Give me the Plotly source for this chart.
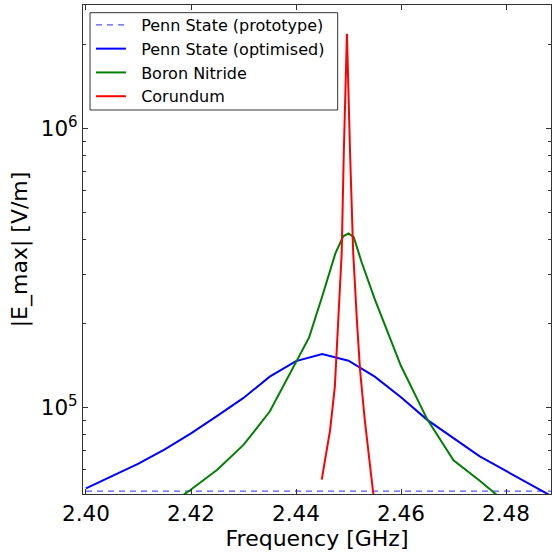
import plotly.graph_objects as go

# Penn State (prototype)
freq_proto = [2.400, 2.490]
e_proto = [50000, 50000]

# Penn State (optimised)
freq_opt = [2.400, 2.405, 2.410, 2.415, 2.420, 2.425, 2.430, 2.435, 2.440, 2.445,
            2.450, 2.455, 2.460, 2.465, 2.470, 2.475, 2.480, 2.485, 2.490]
e_opt = [51150, 56500, 62800, 70600, 80600, 93100, 108000, 128700, 146400, 155100,
         146800, 128700, 108600, 90100, 77500, 66700, 59100, 52300, 46500]

# Boron Nitride
freq_bn = [2.415, 2.420, 2.425, 2.430, 2.435, 2.440, 2.4425, 2.445, 2.4475, 2.449,
           2.450, 2.451, 2.4525, 2.455, 2.4575, 2.460, 2.465, 2.470, 2.475, 2.480]
e_bn = [43500, 50700, 59700, 73300, 96500, 145000, 178000, 250000, 356000, 410000,
        420000, 407000, 331000, 244000, 186000, 140500, 90500, 64500, 54500, 45500]

# Corundum
freq_cor = [2.4449, 2.4465, 2.4474, 2.4481, 2.4487, 2.4491, 2.4497, 2.4503, 2.4509,
            2.4516, 2.4522, 2.4531, 2.4547, 2.4550]
e_cor = [55000, 83000, 118500, 205000, 356000, 812000, 2180000, 812000, 356000,
         205000, 136000, 90000, 49300, 47000]

# axis ticks
x_ticks = [2.40, 2.42, 2.44, 2.46, 2.48]
x_ticklabels = ["2.40", "2.42", "2.44", "2.46", "2.48"]
y_ticks = [1e5, 1e6]
y_ticklabels = ["10<sup>5</sup>", "10<sup>6</sup>"]
y_minor = [6e4, 7e4, 8e4, 9e4, 2e5, 3e5, 4e5, 5e5, 6e5, 7e5, 8e5, 9e5, 2e6]

FONT = "DejaVu Sans"
PAD = "\u00a0\u00a0"

fig = go.Figure()
fig.add_trace(go.Scatter(x=freq_proto, y=e_proto, mode="lines", name=PAD + "Penn State (prototype)",
                         line=dict(color="rgba(40,40,255,0.8)", width=1.2, dash="6px,5px")))
fig.add_trace(go.Scatter(x=freq_opt, y=e_opt, mode="lines", name=PAD + "Penn State (optimised)",
                         line=dict(color="#0000ff", width=2)))
fig.add_trace(go.Scatter(x=freq_bn, y=e_bn, mode="lines", name=PAD + "Boron Nitride",
                         line=dict(color="#008000", width=2)))
fig.add_trace(go.Scatter(x=freq_cor, y=e_cor, mode="lines", name=PAD + "Corundum",
                         line=dict(color="#ff0000", width=2)))

# legend frame
fig.add_shape(type="rect", xref="paper", yref="paper",
              x0=0.0150, x1=0.5442, y0=0.7853, y1=0.9843,
              line=dict(color="#333333", width=1), fillcolor="white", layer="above")

fig.update_layout(
    width=552, height=552,
    margin=dict(l=83, r=1, t=5, b=58, autoexpand=False),
    paper_bgcolor="white", plot_bgcolor="white",
    font=dict(family=FONT, color="black"),
    showlegend=True,
    legend=dict(x=0.017, y=0.994, xanchor="left", yanchor="top",
                bgcolor="rgba(0,0,0,0)", borderwidth=0,
                font=dict(family=FONT, size=16, color="black")),
    xaxis=dict(range=[2.39943, 2.48857], tickmode="array", tickvals=x_ticks,
               ticktext=x_ticklabels, ticks="inside", ticklen=5, tickcolor="#333333",
               showline=True, linecolor="#333333", linewidth=1, mirror="ticks",
               showgrid=False, zeroline=False, automargin=False,
               tickfont=dict(family=FONT, size=21.5, color="black"),
               title=dict(text="Frequency [GHz]", font=dict(family=FONT, size=22, color="black"),
                          standoff=2)),
    yaxis=dict(type="log", range=[4.689, 6.442], tickmode="array", tickvals=y_ticks,
               ticktext=y_ticklabels, ticks="inside", ticklen=5, tickcolor="#333333",
               showline=True, linecolor="#333333", linewidth=1, mirror="ticks",
               showgrid=False, zeroline=False, automargin=False,
               minor=dict(tickmode="array", tickvals=y_minor, ticks="inside", ticklen=3,
                          tickcolor="#333333", showgrid=False),
               tickfont=dict(family=FONT, size=21.5, color="black"),
               title=dict(text="|E_max| [V/m]", font=dict(family=FONT, size=22, color="black"),
                          standoff=7)),
)

fig.write_html("out.html", config={"displayModeBar": False},
               post_script="document.body.style.margin='0';")
